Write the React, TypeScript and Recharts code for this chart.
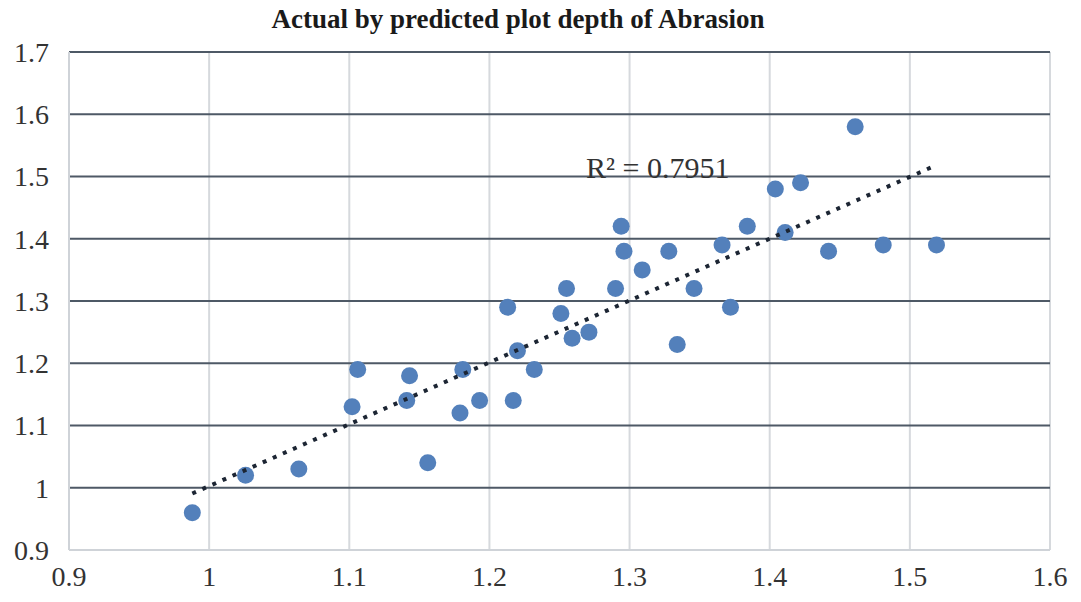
import React from "react";
import {
  ScatterChart,
  Scatter,
  XAxis,
  YAxis,
  CartesianGrid,
} from "recharts";

// predicted depth (x) and actual depth (y)
const predicted = [
  0.988, 1.026, 1.064, 1.102, 1.106, 1.141, 1.143, 1.156, 1.179, 1.181,
  1.193, 1.213, 1.217, 1.22, 1.232, 1.251, 1.255, 1.259, 1.271, 1.29,
  1.294, 1.296, 1.309, 1.328, 1.334, 1.346, 1.366, 1.372, 1.384, 1.404,
  1.411, 1.422, 1.442, 1.461, 1.481, 1.519,
];
const actual = [
  0.96, 1.02, 1.03, 1.13, 1.19, 1.14, 1.18, 1.04, 1.12, 1.19,
  1.14, 1.29, 1.14, 1.22, 1.19, 1.28, 1.32, 1.24, 1.25, 1.32,
  1.42, 1.38, 1.35, 1.38, 1.23, 1.32, 1.39, 1.29, 1.42, 1.48,
  1.41, 1.49, 1.38, 1.58, 1.39, 1.39,
];

const xTicks = [0.9, 1, 1.1, 1.2, 1.3, 1.4, 1.5, 1.6];
const yTicks = [0.9, 1, 1.1, 1.2, 1.3, 1.4, 1.5, 1.6, 1.7];

const title = "Actual by predicted plot depth of Abrasion";
const r2Label = "R² = 0.7951";

const points = predicted.map((x, i) => ({ x, y: actual[i] }));

// least squares line over the observed x range, like an Excel trendline
const n = points.length;
const mx = predicted.reduce((a, b) => a + b, 0) / n;
const my = actual.reduce((a, b) => a + b, 0) / n;
let sxy = 0;
let sxx = 0;
points.forEach((p) => {
  sxy += (p.x - mx) * (p.y - my);
  sxx += (p.x - mx) * (p.x - mx);
});
const slope = sxy / sxx;
const intercept = my - slope * mx;
const xMin = Math.min(...predicted);
const xMax = Math.max(...predicted);
const trend = [
  { x: xMin, y: intercept + slope * xMin },
  { x: xMax, y: intercept + slope * xMax },
];

const serif = "'Liberation Serif', 'Times New Roman', serif";
const tickStyle = { fill: "#333", fontSize: 28, fontFamily: serif };

const fmt = (v: number) => String(Math.round(v * 10) / 10);

export default function App() {
  return (
    <div
      style={{
        position: "absolute",
        left: 0,
        top: 0,
        width: 1081,
        height: 602,
        background: "#fff",
      }}
    >
      <ScatterChart
        width={1081}
        height={602}
        margin={{ top: 52, right: 31, bottom: 6, left: 9 }}
      >
        <CartesianGrid
          horizontal={false}
          stroke="#d6d9dd"
          strokeWidth={2}
        />
        <CartesianGrid
          vertical={false}
          stroke="#4e5966"
          strokeWidth={2}
          horizontalValues={yTicks.slice(1)}
        />
        <XAxis
          type="number"
          dataKey="x"
          domain={[0.9, 1.6]}
          ticks={xTicks}
          tickFormatter={fmt}
          axisLine={{ stroke: "#cfd3d8", strokeWidth: 2 }}
          tickLine={false}
          tick={tickStyle}
          tickMargin={10}
          height={46}
          interval={0}
          allowDataOverflow
        />
        <YAxis
          type="number"
          dataKey="y"
          domain={[0.9, 1.7]}
          ticks={yTicks}
          tickFormatter={fmt}
          axisLine={{ stroke: "#cfd3d8", strokeWidth: 2 }}
          tickLine={false}
          tick={tickStyle}
          tickMargin={14}
          width={60}
          interval={0}
          allowDataOverflow
        />
        <Scatter
          data={points}
          fill="#5380bb"
          shape={(props: any) => (
            <circle cx={props.cx} cy={props.cy} r={8.5} fill="#5380bb" />
          )}
          isAnimationActive={false}
        />
        <Scatter
          data={trend}
          line={{
            stroke: "#1c2533",
            strokeWidth: 4,
            strokeDasharray: "4 7",
          }}
          shape={() => <g />}
          isAnimationActive={false}
        />
      </ScatterChart>
      <div
        style={{
          position: "absolute",
          left: 0,
          width: 1036,
          top: 6,
          lineHeight: 1,
          textAlign: "center",
          fontFamily: serif,
          fontWeight: "bold",
          fontSize: 27,
          color: "#1a1a1a",
        }}
      >
        {title}
      </div>
      <div
        style={{
          position: "absolute",
          left: 586,
          top: 153,
          lineHeight: 1,
          fontFamily: serif,
          fontSize: 30,
          color: "#333",
        }}
      >
        {r2Label}
      </div>
    </div>
  );
}
